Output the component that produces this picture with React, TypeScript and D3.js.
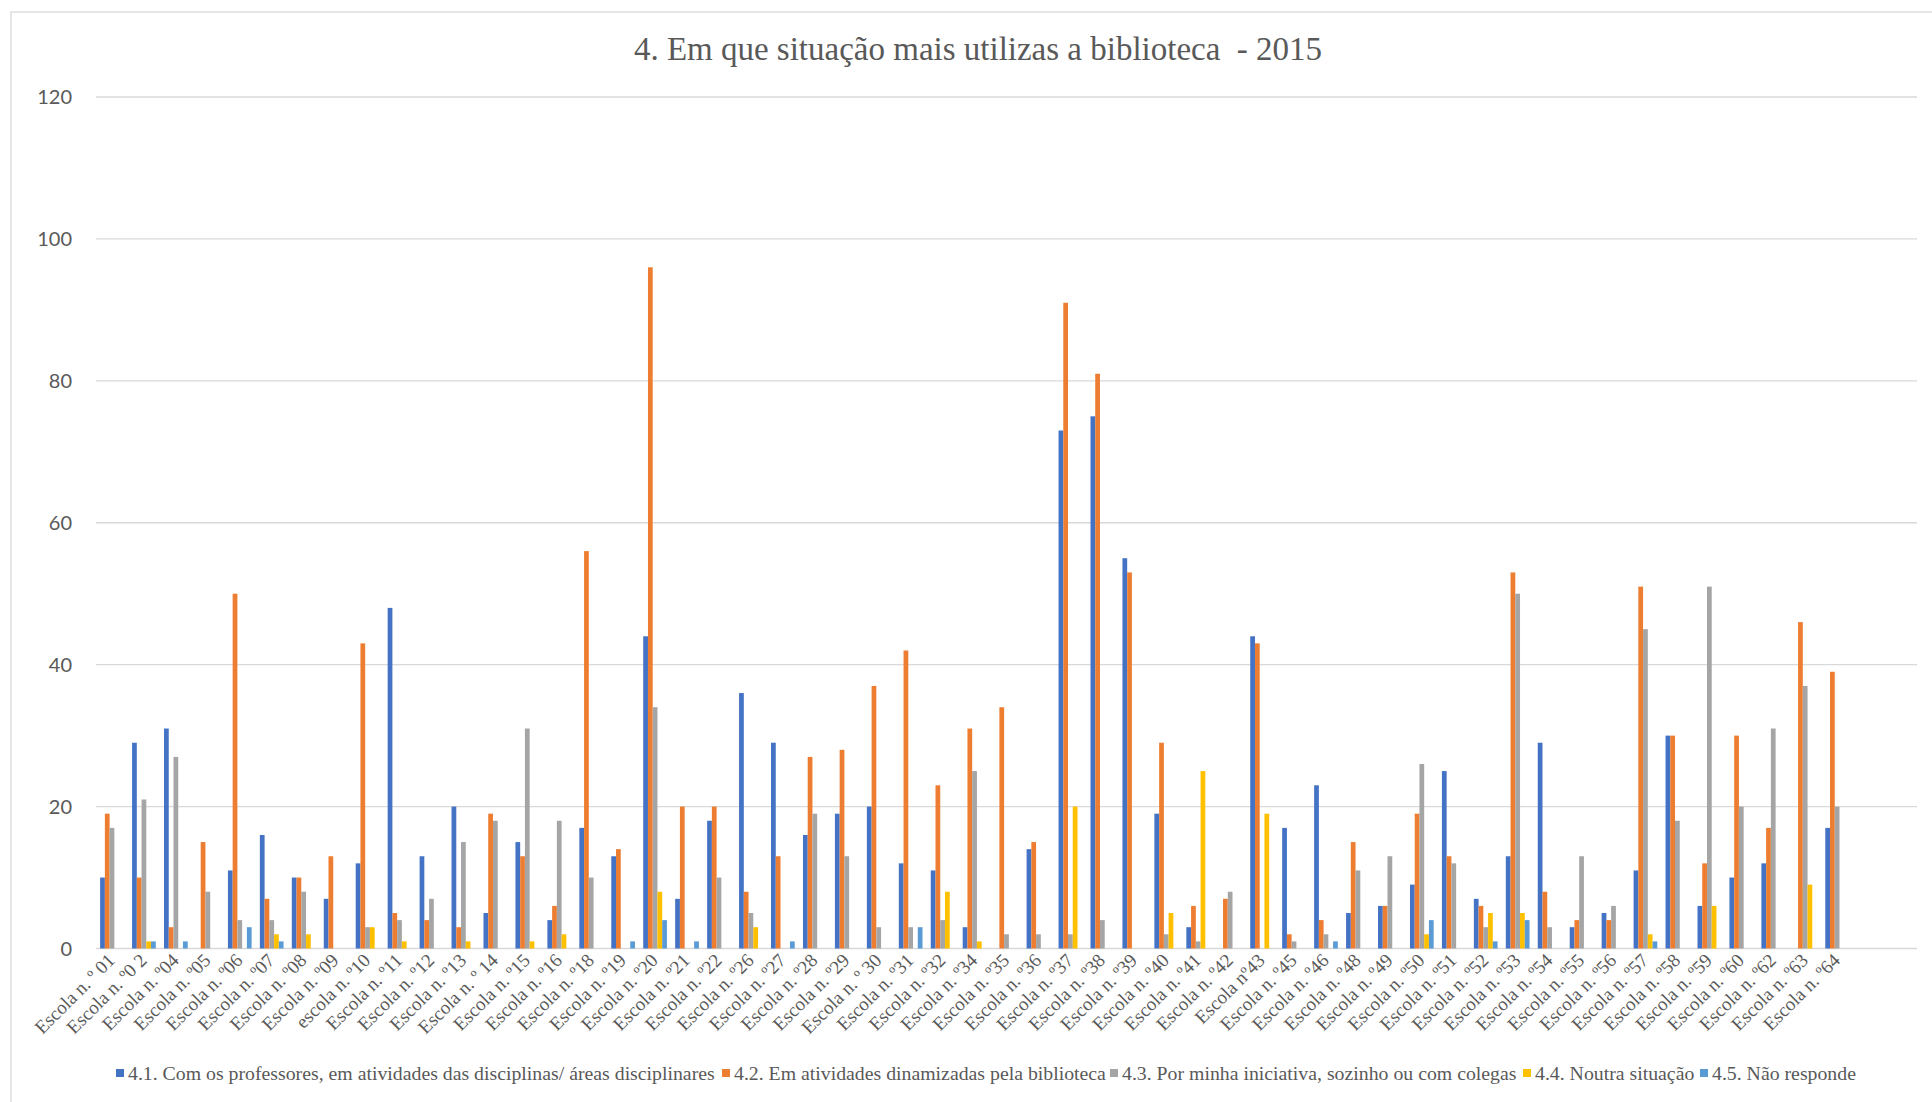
import React from "react";
import * as d3 from "d3";

const categories = [
  "Escola n. º 01", "Escola n. º0 2", "Escola n. º04", "Escola n. º05", "Escola n. º06",
  "Escola n. º07", "Escola n. º08", "Escola n. º09", "escola n. º10", "Escola n. º11",
  "Escola n. º12", "Escola n. º13", "Escola n. º 14", "Escola n. º15", "Escola n. º16",
  "Escola n. º18", "Escola n. º19", "Escola n. º20", "Escola n. º21", "Escola n. º22",
  "Escola n. º26", "Escola n. º27", "Escola n. º28", "Escola n. º29", "Escola n. º 30",
  "Escola n. º31", "Escola n. º32", "Escola n. º34", "Escola n. º35", "Escola n. º36",
  "Escola n. º37", "Escola n. º38", "Escola n. º39", "Escola n. º40", "Escola n. º41",
  "Escola n. º42", "Escola nº43", "Escola n. º45", "Escola n. º46", "Escola n. º48",
  "Escola n. º49", "Escola n. º50", "Escola n. º51", "Escola n. º52", "Escola n. º53",
  "Escola n. º54", "Escola n. º55", "Escola n. º56", "Escola n. º57", "Escola n. º58",
  "Escola n. º59", "Escola n. º60", "Escola n. º62", "Escola n. º63", "Escola n. º64",
];

// two empty rows at the end of the source table
const emptySlots = ["__empty1", "__empty2"];

const s41 = [10, 29, 31, 0, 11, 16, 10, 7, 12, 48, 13, 20, 5, 15, 4, 17, 13, 44, 7, 18, 36, 29, 16, 19, 20, 12, 11, 3, 0, 14, 73, 75, 55, 19, 3, 0, 44, 17, 23, 5, 6, 9, 25, 7, 13, 29, 3, 5, 11, 30, 6, 10, 12, 0, 17];
const s42 = [19, 10, 3, 15, 50, 7, 10, 13, 43, 5, 4, 3, 19, 13, 6, 56, 14, 96, 20, 20, 8, 13, 27, 28, 37, 42, 23, 31, 34, 15, 91, 81, 53, 29, 6, 7, 43, 2, 4, 15, 6, 19, 13, 6, 53, 8, 4, 4, 51, 30, 12, 30, 17, 46, 39];
const s43 = [17, 21, 27, 8, 4, 4, 8, 0, 3, 4, 7, 15, 18, 31, 18, 10, 0, 34, 0, 10, 5, 0, 19, 13, 3, 3, 4, 25, 2, 2, 2, 4, 0, 2, 1, 8, 0, 1, 2, 11, 13, 26, 12, 3, 50, 3, 13, 6, 45, 18, 51, 20, 31, 37, 20];
const s44 = [0, 1, 0, 0, 0, 2, 2, 0, 3, 1, 0, 1, 0, 1, 2, 0, 0, 8, 0, 0, 3, 0, 0, 0, 0, 0, 8, 1, 0, 0, 20, 0, 0, 5, 25, 0, 19, 0, 0, 0, 0, 2, 0, 5, 5, 0, 0, 0, 2, 0, 6, 0, 0, 9, 0];
const s45 = [0, 1, 1, 0, 3, 1, 0, 0, 0, 0, 0, 0, 0, 0, 0, 0, 1, 4, 1, 0, 0, 1, 0, 0, 0, 3, 0, 0, 0, 0, 0, 0, 0, 0, 0, 0, 0, 0, 1, 0, 0, 4, 0, 1, 4, 0, 0, 0, 1, 0, 0, 0, 0, 0, 0];

const seriesNames = [
  "4.1. Com os professores, em atividades das disciplinas/ áreas disciplinares",
  "4.2. Em atividades dinamizadas pela biblioteca",
  "4.3. Por minha iniciativa, sozinho ou com colegas",
  "4.4. Noutra situação",
  "4.5. Não responde",
];
const seriesValues = [s41, s42, s43, s44, s45];
const seriesColors = ["#4472C4", "#ED7D31", "#A5A5A5", "#FFC000", "#5B9BD5"];

const yTicks = [0, 20, 40, 60, 80, 100, 120];
const title = "4. Em que situação mais utilizas a biblioteca  - 2015";

// layout
const W = 1932;
const H = 1102;
const plotLeft = 96;
const plotRight = 1917;
const plotTop = 97;
const plotBottom = 948.5;
const legendX = [116, 722, 1110, 1523, 1700];
const legendY = 1073;

export default function App() {
  const x = d3
    .scaleBand<string>()
    .domain([...categories, ...emptySlots])
    .range([plotLeft, plotRight])
    .paddingInner(0)
    .paddingOuter(0);
  const xi = d3
    .scaleBand<number>()
    .domain(d3.range(seriesNames.length))
    .range([0, x.bandwidth()])
    .paddingInner(0)
    .paddingOuter(0.87);
  const y = d3.scaleLinear().domain([0, 120]).range([plotBottom, plotTop]);

  const serif = "'Liberation Serif', 'Times New Roman', serif";
  const sans = "Lato, 'Open Sans', sans-serif";
  const textColor = "#595959";

  return (
    <svg
      width={W}
      height={H}
      viewBox={`0 0 ${W} ${H}`}
      style={{ position: "absolute", left: 0, top: 0, background: "#fff" }}
    >
      <rect x={0} y={0} width={W} height={H} fill="#fff" />
      <rect x={11} y={12} width={W + 20} height={H + 20} fill="#fff" stroke="#d9d9d9" strokeWidth={1.3} />
      <text
        x={978}
        y={60}
        textAnchor="middle"
        fontFamily={serif}
        fontSize={33}
        fill={textColor}
        style={{ whiteSpace: "pre" }}
      >
        {title}
      </text>

      {yTicks.map((t) => (
        <g key={t}>
          <line x1={plotLeft} x2={plotRight} y1={y(t)} y2={y(t)} stroke="#d9d9d9" strokeWidth={1.3} />
          <text x={72} y={y(t)} dy="0.35em" textAnchor="end" fontFamily={sans} fontSize={20} fill={textColor}>
            {t}
          </text>
        </g>
      ))}

      {seriesValues.map((vals, si) => (
        <g key={si} fill={seriesColors[si]}>
          {vals.map((v, ci) =>
            v > 0 ? (
              <rect
                key={ci}
                x={(x(categories[ci]) as number) + (xi(si) as number)}
                y={y(v)}
                width={xi.bandwidth()}
                height={plotBottom - y(v)}
              />
            ) : null
          )}
        </g>
      ))}

      {categories.map((c) => {
        const cx = (x(c) as number) + x.bandwidth() / 2 + 4;
        const cy = plotBottom + 13;
        return (
          <text
            key={c}
            transform={`translate(${cx},${cy}) rotate(-45)`}
            textAnchor="end"
            fontFamily={serif}
            fontSize={19}
            fill={textColor}
          >
            {c}
          </text>
        );
      })}

      <defs>
        <clipPath id="lg-clip-0">
          <rect x={legendX[0]} y={legendY - 20} width={legendX[1] - 1 - legendX[0]} height={40} />
        </clipPath>
      </defs>
      {seriesNames.map((name, i) => (
        <g key={name}>
          <rect x={legendX[i]} y={legendY - 4} width={8} height={8} fill={seriesColors[i]} />
          <text
            x={legendX[i] + 12}
            y={legendY}
            dy="0.33em"
            fontFamily={serif}
            fontSize={19.8}
            fill={textColor}
            clipPath={i === 0 ? "url(#lg-clip-0)" : undefined}
            style={{ whiteSpace: "pre" }}
          >
            {name}
          </text>
        </g>
      ))}
    </svg>
  );
}
